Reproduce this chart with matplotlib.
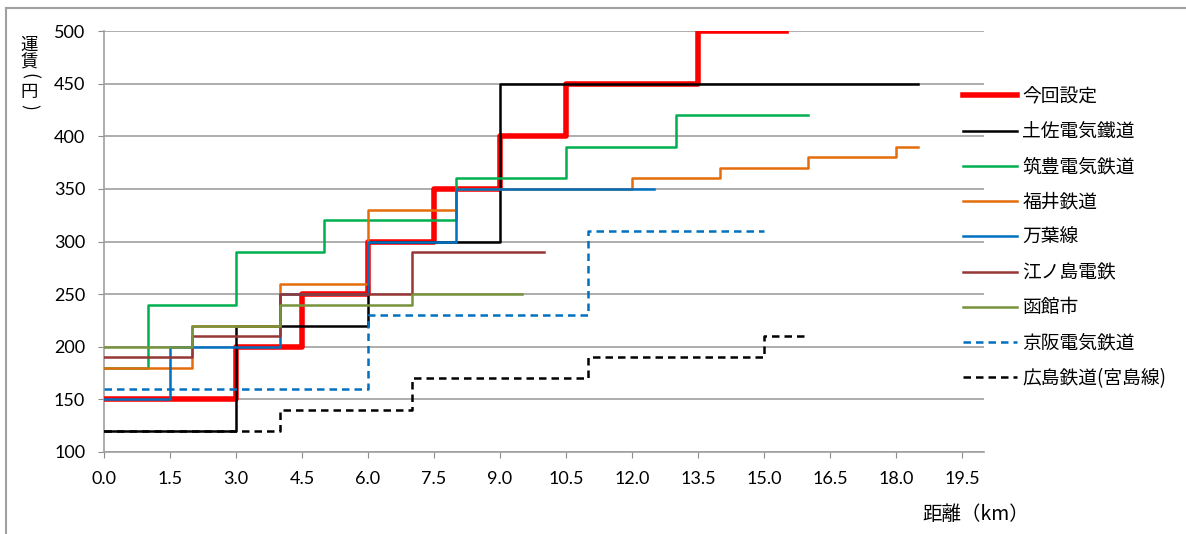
import matplotlib.pyplot as plt
from matplotlib.lines import Line2D

plt.rcParams['font.family'] = ['Lato', 'Noto Sans CJK JP', 'DejaVu Sans']

# step data: fare starts at x[i], last point marks end of the line
names = ['今回設定', '土佐電気鐵道', '筑豊電気鉄道', '福井鉄道', '万葉線',
         '江ノ島電鉄', '函館市', '京阪電気鉄道', '広島鉄道(宮島線)']

kongai_x = [0, 3, 4.5, 6, 7.5, 9, 10.5, 13.5, 15.5]
kongai_y = [150, 200, 250, 300, 350, 400, 450, 500, 500]

tosa_x = [0, 3, 6, 9, 18.5]
tosa_y = [120, 220, 300, 450, 450]

chikuho_x = [0, 1, 3, 5, 8, 10.5, 13, 16]
chikuho_y = [180, 240, 290, 320, 360, 390, 420, 420]

fukui_x = [0, 2, 4, 6, 8, 12, 14, 16, 18, 18.5]
fukui_y = [180, 220, 260, 330, 350, 360, 370, 380, 390, 390]

manyo_x = [0, 1.5, 4, 6, 8, 12.5]
manyo_y = [150, 200, 250, 300, 350, 350]

enoden_x = [0, 2, 4, 7, 10]
enoden_y = [190, 210, 250, 290, 290]

hakodate_x = [0, 2, 4, 7, 9.5]
hakodate_y = [200, 220, 240, 250, 250]

keihan_x = [0, 6, 11, 15]
keihan_y = [160, 230, 310, 310]

hiroshima_x = [0, 4, 7, 11, 15, 16]
hiroshima_y = [120, 140, 170, 190, 210, 210]

series = [
    (kongai_x, kongai_y, '#FF0000', 4.0, '-'),
    (tosa_x, tosa_y, '#000000', 1.8, '-'),
    (chikuho_x, chikuho_y, '#00B050', 1.8, '-'),
    (fukui_x, fukui_y, '#E46C0A', 1.8, '-'),
    (manyo_x, manyo_y, '#0070C0', 1.8, '-'),
    (enoden_x, enoden_y, '#953735', 1.8, '-'),
    (hakodate_x, hakodate_y, '#77933C', 1.8, '-'),
    (keihan_x, keihan_y, '#0070C0', 1.8, (0, (3, 2))),
    (hiroshima_x, hiroshima_y, '#000000', 1.8, (0, (3, 2))),
]

fig = plt.figure(figsize=(11.86, 5.34), dpi=100)
ax = fig.add_axes([104 / 1186, 82 / 534, 880 / 1186, 421 / 534])

for i, (xs, ys, c, lw, ls) in enumerate(series):
    ax.step(xs, ys, where='post', color=c, lw=lw, linestyle=ls,
            label=names[i], zorder=3 + i)

ax.set_xlim(0, 20)
ax.set_ylim(100, 500)
xt = [i * 1.5 for i in range(14)]
ax.set_xticks(xt)
ax.set_xticklabels(['%.1f' % v for v in xt], fontsize=13)
ax.set_yticks(range(100, 501, 50))
ax.tick_params(axis='y', labelsize=13, length=4, color='#8c8c8c', pad=9.5)
ax.tick_params(axis='x', length=4, color='#8c8c8c', pad=10)
ax.grid(axis='y', color='#a0a0a0', lw=1.2, zorder=0)
for s in ['top', 'right']:
    ax.spines[s].set_visible(False)
ax.spines['left'].set_color('#a0a0a0')
ax.spines['bottom'].set_color('#a0a0a0')
ax.spines['left'].set_linewidth(1.2)
ax.spines['bottom'].set_linewidth(1.2)

# y title written vertically, one character per line (brackets turned)
ylab_chars = [('運', 45, 0), ('賃', 62.5, 0), ('(', 76, -90), ('円', 92, 0), (')', 107, -90)]
for ch, yp, rot in ylab_chars:
    fig.text(29 / 1186, 1 - yp / 534, ch, fontsize=12.5, rotation=rot,
             family=['Noto Sans CJK JP'], ha='center', va='center')
fig.text(976 / 1186, 1 - 515 / 534, '距離（km）', fontsize=14,
         family=['Noto Sans CJK JP'], ha='center', va='center')

# legend
handles = [Line2D([], [], color=c, lw=lw, linestyle=ls) for (_, _, c, lw, ls) in series]
fig.legend(handles, names, loc='upper left', bbox_to_anchor=(963 / 1186, 1 - 86 / 534),
           frameon=False, handlelength=2.9, handletextpad=0.27, borderpad=0,
           borderaxespad=0, labelspacing=0.76,
           prop={'family': ['Noto Sans CJK JP'], 'size': 13.5})

# outer chart border
fig.add_artist(Line2D([6 / 1186, 6 / 1186], [0, 1 - 8 / 534], color='#a0a0a0', lw=1.5))
fig.add_artist(Line2D([6 / 1186, 1], [1 - 8 / 534, 1 - 8 / 534], color='#a0a0a0', lw=1.5))

fig.savefig('out.png', dpi=100)
